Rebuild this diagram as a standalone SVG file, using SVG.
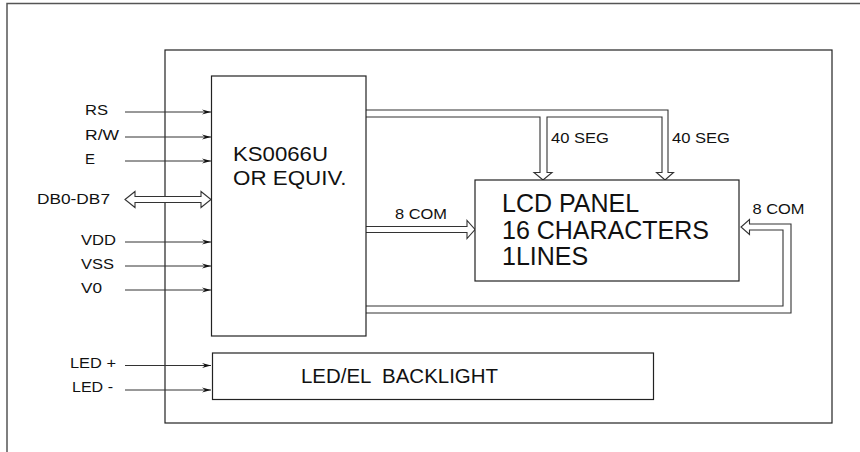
<svg xmlns="http://www.w3.org/2000/svg" width="860" height="452" viewBox="0 0 860 452">
<style>
.frame{fill:none;stroke:#555;stroke-width:1.5}
.box{fill:#fff;stroke:#222;stroke-width:1.2}
.bus{fill:#fff;stroke:#333;stroke-width:1.1;stroke-linejoin:miter}
.sig{fill:none;stroke:#333;stroke-width:1}
text{font-family:"Liberation Sans",Arial,sans-serif;fill:#111}
.lbl{font-size:14px}
.bl{font-size:15px}
</style>
<defs>
<marker id="ah" markerUnits="userSpaceOnUse" markerWidth="12" markerHeight="8" viewBox="-10 -4 12 8" refX="0" refY="0" orient="auto">
<path d="M0,0 L-9,-2.6 L-6,0 L-9,2.6 Z" fill="#111"/>
</marker>
</defs>
<path class="frame" d="M7,452 V3.5 H860"/>
<rect class="frame" x="165" y="50" width="667" height="373" style="stroke:#222;stroke-width:1.2"/>

<g id="connectors">
<line class="sig" x1="125" y1="112" x2="211" y2="112" marker-end="url(#ah)"/>
<line class="sig" x1="125" y1="137" x2="211" y2="137" marker-end="url(#ah)"/>
<line class="sig" x1="125" y1="161" x2="211" y2="161" marker-end="url(#ah)"/>
<line class="sig" x1="125" y1="242" x2="211" y2="242" marker-end="url(#ah)"/>
<line class="sig" x1="125" y1="266" x2="211" y2="266" marker-end="url(#ah)"/>
<line class="sig" x1="125" y1="290" x2="211" y2="290" marker-end="url(#ah)"/>
<line class="sig" x1="125" y1="365.5" x2="211" y2="365.5" marker-end="url(#ah)"/>
<line class="sig" x1="125" y1="390" x2="211" y2="390" marker-end="url(#ah)"/>
<path class="bus" d="M125,199.5 L135,191.5 V196.5 H201 V191.5 L211,199.5 L201,207.5 V202.5 H135 V207.5 Z"/>
<path class="bus" d="M366,110 H668 V172.5 H673.5 L665,180 L656.5,172.5 H662 V117 H547 V172.5 H552 L543,180 L534,172.5 H540 V117 H366"/>
<path class="bus" d="M366,226.5 H467 V220.5 L475,229.5 L467,238.5 V232.5 H366"/>
<path class="bus" d="M366,313 H791 V224 H749.5 V219.5 L741,227 L749.5,234.5 V230 H783 V306 H366"/>
<text class="bl" x="551" y="143" textLength="58" lengthAdjust="spacingAndGlyphs">40 SEG</text>
<text class="bl" x="672" y="142.5" textLength="58" lengthAdjust="spacingAndGlyphs">40 SEG</text>
<text class="bl" x="395" y="218.5" textLength="52" lengthAdjust="spacingAndGlyphs">8 COM</text>
<text class="bl" x="752.5" y="214" textLength="52" lengthAdjust="spacingAndGlyphs">8 COM</text>
</g>

<g id="pins">
<text class="lbl" x="85" y="115" textLength="23" lengthAdjust="spacingAndGlyphs">RS</text>
<text class="lbl" x="85" y="140" textLength="34" lengthAdjust="spacingAndGlyphs">R/W</text>
<text class="lbl" x="85" y="164" textLength="10" lengthAdjust="spacingAndGlyphs">E</text>
<text class="lbl" x="37" y="204" textLength="73" lengthAdjust="spacingAndGlyphs">DB0-DB7</text>
<text class="lbl" x="81" y="245" textLength="35" lengthAdjust="spacingAndGlyphs">VDD</text>
<text class="lbl" x="81" y="269" textLength="33" lengthAdjust="spacingAndGlyphs">VSS</text>
<text class="lbl" x="81" y="293" textLength="21" lengthAdjust="spacingAndGlyphs">V0</text>
<text class="lbl" x="70" y="368" textLength="46" lengthAdjust="spacingAndGlyphs">LED +</text>
<text class="lbl" x="72" y="392" textLength="41" lengthAdjust="spacingAndGlyphs">LED -</text>
</g>

<g id="controller">
<rect class="box" x="211.5" y="76" width="154.5" height="260"/>
<text x="233" y="161" style="font-size:21px" textLength="95" lengthAdjust="spacingAndGlyphs">KS0066U</text>
<text x="233" y="184.5" style="font-size:21px" textLength="113.5" lengthAdjust="spacingAndGlyphs">OR EQUIV.</text>
</g>

<g id="lcd-panel">
<rect class="box" x="475" y="180" width="264" height="101"/>
<text x="502" y="212" style="font-size:25px">LCD PANEL</text>
<text x="502" y="238.5" style="font-size:25px">16 CHARACTERS</text>
<text x="502" y="264.5" style="font-size:25px">1LINES</text>
</g>

<g id="backlight">
<rect class="box" x="212.5" y="353" width="441" height="46.5"/>
<text x="301" y="383" xml:space="preserve" style="font-size:20px" textLength="197" lengthAdjust="spacingAndGlyphs">LED/EL  BACKLIGHT</text>
</g>
</svg>
